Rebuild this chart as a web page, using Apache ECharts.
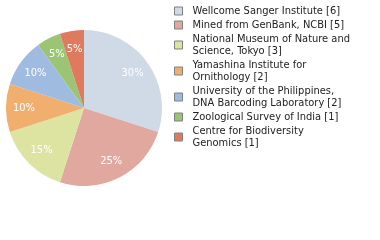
<!DOCTYPE html>
<html><head><meta charset="utf-8">
<script src="https://cdn.jsdelivr.net/npm/echarts@6/dist/echarts.min.js"></script>
<style>html,body{margin:0;padding:0;background:#fff}#c{width:380px;height:240px}</style>
</head><body><div id="c"></div>
<script>
var categories = ["Wellcome Sanger Institute [6]","Mined from GenBank, NCBI [5]","National Museum of Nature and\nScience, Tokyo [3]","Yamashina Institute for\nOrnithology [2]","University of the Philippines,\nDNA Barcoding Laboratory [2]","Zoological Survey of India [1]","Centre for Biodiversity\nGenomics [1]"];
var values = [6,5,3,2,2,1,1];
var colors = ["#cfdae6","#e0a89f","#dde3a0","#f0ae6f","#a0bbe0","#9cc475","#e07a5e"];
var total = values.reduce(function(a,b){return a+b;},0);
var data = categories.map(function(n,i){return {name:n,value:values[i],itemStyle:{color:colors[i]}};});
var font = "DejaVu Sans Condensed";
var chart = echarts.init(document.getElementById('c'),null,{renderer:'canvas'});
chart.setOption({
  animation:false,
  legend:{orient:'vertical',left:174,top:5,padding:0,itemWidth:8,itemHeight:8,itemGap:2,
    icon:'rect',
    itemStyle:{borderColor:'#808080',borderWidth:1},
    textStyle:{fontFamily:font,fontSize:11,color:'#222',lineHeight:12,padding:[0,0,0,5]},
    data:categories},
  series:[
    {type:'pie',radius:[0,78],center:[84,108],startAngle:90,clockwise:true,
     label:{show:false},labelLine:{show:false},data:data,silent:true},
    {type:'pie',radius:[36,78],center:[84,108],startAngle:90,clockwise:true,silent:true,
     itemStyle:{color:'transparent'},
     label:{show:true,position:'inside',color:'#fff',fontFamily:font,fontSize:11,
       formatter:function(p){return Math.round(p.value/total*100)+'%';}},
     labelLine:{show:false},
     data:categories.map(function(n,i){return {name:n,value:values[i],itemStyle:{color:'transparent'}};})}
  ]
});
</script></body></html>
